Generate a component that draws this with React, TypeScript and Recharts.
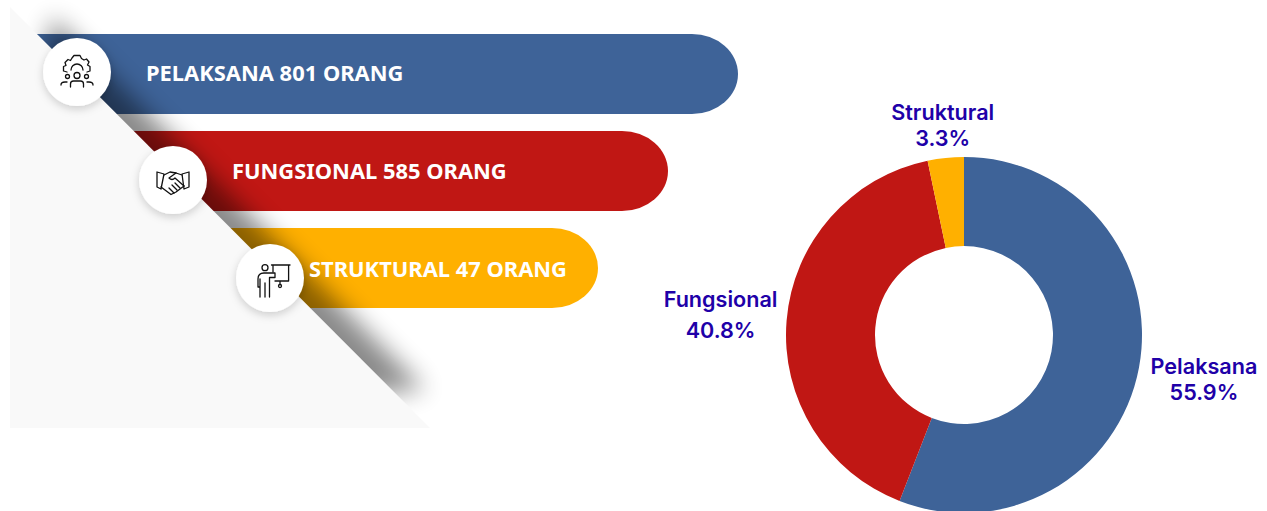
import { Bar, BarChart, Cell, LabelList, Pie, PieChart, XAxis, YAxis } from "recharts";

const categories = ["Pelaksana", "Fungsional", "Struktural"];
const employees = [801, 585, 47];
const shares = ["55.9%", "40.8%", "3.3%"];
// the banners are decorative, their length does not follow the head count
const bannerStarts = [35, 132, 230];
const bannerEnds = [738, 668, 598];
const colors = ["#3e6398", "#c01714", "#ffb000"];

const bannerLabelX = [146, 232, 309];
const bannerLabelDy = [-1, 0, 1];
const pieLabelShift = [
  [65, 12],
  [-66, -5],
  [-3, -32],
];

const bannerData = categories.map((name, i) => ({
  name,
  span: [bannerStarts[i], bannerEnds[i]],
  label: `${name.toUpperCase()} ${employees[i]} ORANG`,
}));
const pieData = categories.map((name, i) => ({ name, value: employees[i] }));

const RADIAN = Math.PI / 180;
const labelFont = "Inter, Roboto, sans-serif";
const bannerFont = "'Noto Sans', 'Open Sans', sans-serif";
const noMargin = { top: 0, right: 0, bottom: 0, left: 0 };
const bannerMargin = { top: 25.5, right: 0, bottom: 194.5, left: 0 };

// rounded end is a bit wider than it is tall
const BannerShape = ({ x, y, width, height, fill }: any) => {
  const rx = 46;
  const ry = height / 2;
  const end = x + width;
  return (
    <path
      fill={fill}
      d={`M${x} ${y}H${end - rx}A${rx} ${ry} 0 0 1 ${end} ${y + ry}A${rx} ${ry} 0 0 1 ${end - rx} ${y + height}H${x}Z`}
    />
  );
};

const BannerLabel = ({ y, height, index, value }: any) => (
  <text
    x={bannerLabelX[index]}
    y={y + height / 2 + 7.5 + bannerLabelDy[index]}
    fill="#fff"
    fontFamily={bannerFont}
    fontWeight={700}
    fontSize={21.9}
  >
    {value}
  </text>
);

const PieLabel = ({ cx, cy, midAngle, outerRadius, index }: any) => {
  const x = cx + outerRadius * Math.cos(-midAngle * RADIAN) + pieLabelShift[index][0];
  const y = cy + outerRadius * Math.sin(-midAngle * RADIAN) + pieLabelShift[index][1];
  const lineGap = index === 1 ? 31 : 26;
  return (
    <text
      textAnchor="middle"
      fill="#2000a8"
      fontFamily={labelFont}
      fontWeight={600}
      fontSize={21.6}
    >
      <tspan x={x} y={y - lineGap / 2 + 7}>{categories[index]}</tspan>
      <tspan x={x} y={y + lineGap / 2 + 7}>{shares[index]}</tspan>
    </text>
  );
};

const Badge = ({ cx, cy, children }: any) => (
  <g>
    <circle cx={cx} cy={cy} r={34} fill="#fff" filter="url(#badgeShadow)" />
    <g fill="none" stroke="#111" strokeWidth={1.3} strokeLinejoin="round" strokeLinecap="round">
      {children}
    </g>
  </g>
);

const Overlay = () => (
  <svg width={1267} height={511} style={{ position: "absolute", left: 0, top: 0 }}>
    <defs>
      <filter id="edgeBlur" x="-20%" y="-20%" width="140%" height="140%">
        <feGaussianBlur stdDeviation={12} />
      </filter>
      <filter id="badgeShadow" x="-30%" y="-30%" width="160%" height="160%">
        <feDropShadow dx={0} dy={3} stdDeviation={4} floodColor="#000" floodOpacity={0.18} />
      </filter>
    </defs>
    {/* shadow of the diagonal panel */}
    <polygon points="52,17 425,390 200,400 40,100" fill="#000" opacity={0.46} filter="url(#edgeBlur)" />
    <polygon points="10,7 430,428 10,428" fill="#f9f9f9" />

    <Badge cx={77} cy={72}>
      <path d="M67 72L63.5 71V66.5L66 65.5L65 62.5L68 59.5L70.5 60.5L72 58L74 55.5H80L81.5 58.5L84 60L86.5 59L89 62L87.5 65L90 66.5V71L87 72" />
      <path d="M71 70A6 6 0 0 1 83 70" />
      <circle cx={77} cy={75.5} r={3} />
      <circle cx={67.5} cy={76.5} r={2} />
      <circle cx={86.5} cy={76.5} r={2} />
      <path d="M70.5 87V84Q70.5 81 73.5 81H80.5Q83.5 81 83.5 84V87" />
      <path d="M61 85Q61 82 65 82H67M93 85Q93 82 89 82H87" />
    </Badge>
    <Badge cx={173} cy={180}>
      <path d="M157 172L164 174L161 189L157 187ZM189 172L182 174L184 189L189 187Z" />
      <path d="M164 175L170 172L176 173L182 175M161 187L171 194.5L176 192L184 186" />
      <path d="M176 173L169 178Q172 181 175 178L184 186M174 193L169 188M177 190L172 185M180 188L175 183" />
    </Badge>
    <Badge cx={270} cy={278}>
      <circle cx={265} cy={267.7} r={3} />
      <path d="M271.5 265H290M288.6 265V281H275M273 265V272M280 281V284" />
      <circle cx={280} cy={286} r={1.5} />
      <path d="M275 273H264Q258 273 258 279V287H260M260 279V297M265 283V297M269.5 277.5V297M269.5 277.5H275V273" />
    </Badge>
  </svg>
);

const layer = { position: "absolute", left: 0, top: 0 } as const;

export default function App() {
  return (
    <div style={{ position: "absolute", left: 0, top: 0, width: 1267, height: 511, overflow: "hidden", background: "#fff" }}>
      <div style={layer}>
        <BarChart
          width={1267}
          height={511}
          data={bannerData}
          layout="vertical"
          margin={bannerMargin}
          barCategoryGap={8.5}
        >
          <XAxis type="number" domain={[0, 1267]} hide />
          <YAxis type="category" dataKey="name" hide />
          <Bar dataKey="span" shape={<BannerShape />} isAnimationActive={false}>
            {bannerData.map((d, i) => (
              <Cell key={d.name} fill={colors[i]} />
            ))}
          </Bar>
        </BarChart>
      </div>

      <Overlay />

      <div style={layer}>
        <BarChart
          width={1267}
          height={511}
          data={bannerData}
          layout="vertical"
          margin={bannerMargin}
          barCategoryGap={8.5}
        >
          <XAxis type="number" domain={[0, 1267]} hide />
          <YAxis type="category" dataKey="name" hide />
          <Bar dataKey="span" fill="none" isAnimationActive={false}>
            <LabelList dataKey="label" content={<BannerLabel />} />
          </Bar>
        </BarChart>
      </div>

      <div style={layer}>
        <PieChart width={1267} height={511} margin={noMargin}>
          <Pie
            data={pieData}
            dataKey="value"
            cx={964}
            cy={335}
            innerRadius={89}
            outerRadius={178}
            startAngle={90}
            endAngle={-270}
            stroke="none"
            labelLine={false}
            label={PieLabel}
            isAnimationActive={false}
          >
            {pieData.map((d, i) => (
              <Cell key={d.name} fill={colors[i]} />
            ))}
          </Pie>
        </PieChart>
      </div>
    </div>
  );
}
